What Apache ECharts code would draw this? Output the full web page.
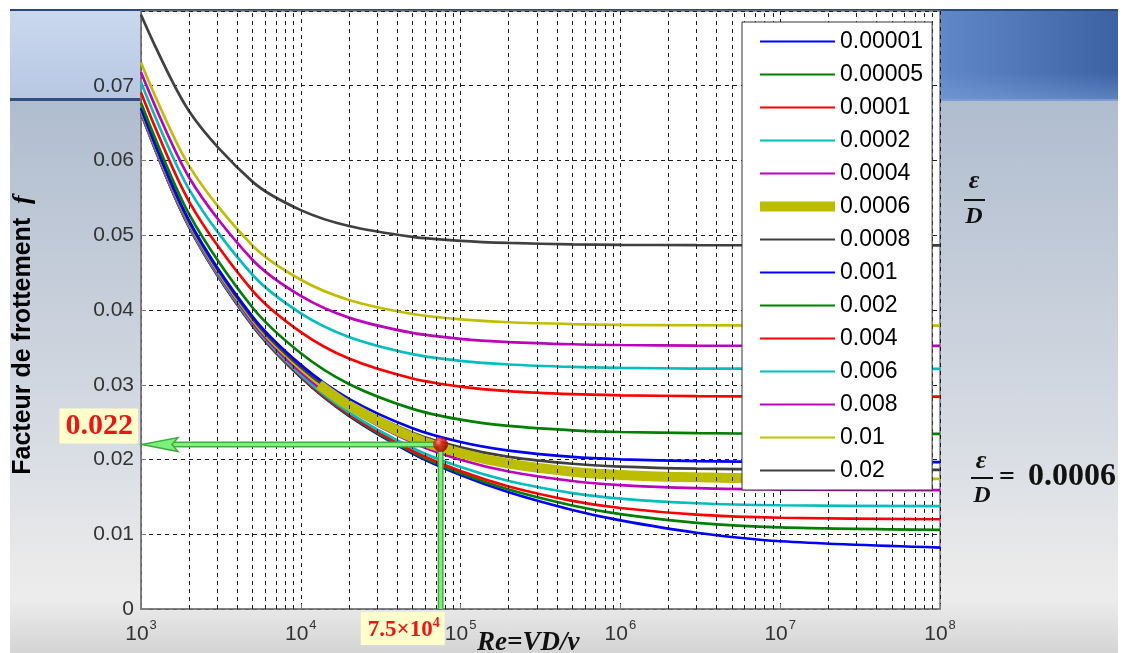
<!DOCTYPE html>
<html>
<head>
<meta charset="utf-8">
<script src="https://cdn.jsdelivr.net/npm/echarts@6/dist/echarts.min.js"></script>
<style>
  html, body { margin: 0; padding: 0; background: #fff; }
  #wrap { position: relative; width: 1126px; height: 653px; overflow: hidden; background: #fff; }
  #bg {
    position: absolute; left: 10px; top: 9px; width: 1108px; height: 644px;
    background:
      linear-gradient(#2b4a7c, #2b4a7c) 0 0 / 100% 2px no-repeat,
      linear-gradient(#2f4f82, #2f4f82) 0 89px / 131px 3px no-repeat,
      linear-gradient(180deg, #cad8ef, #b8c8e2) 0 2px / 131px 87px no-repeat,
      linear-gradient(#7c9cd4, #7c9cd4) 930px 90px / 178px 2px no-repeat,
      linear-gradient(180deg, rgba(255,255,255,0) 70%, rgba(130,165,220,0.45)) 930px 2px / 178px 88px no-repeat,
      linear-gradient(90deg, #6088c8, #3d62a4) 930px 2px / 178px 88px no-repeat,
      linear-gradient(180deg, #b0bdcf 0px, #b0bdcf 92px, #c2cbd8 250px, #d6dbe3 420px, #eaeaea 560px, #ececec 590px, #d4d4d4 644px);
  }
  #chart { position: absolute; left: 0; top: 0; width: 1126px; height: 653px; }
</style>
</head>
<body>
<div id="wrap">
  <div id="bg"></div>
  <div id="chart"></div>
</div>
<script>
// Reynolds numbers at which the friction factor is sampled
const reynolds = [1e3, 2e3, 5e3, 1e4, 2e4, 5e4, 1e5, 2e5, 5e5, 1e6, 3e6, 1e7, 1e8];

// Relative roughness values (legend entries)
const roughnessLabels = ['0.00001', '0.00005', '0.0001', '0.0002', '0.0004', '0.0006', '0.0008',
                         '0.001', '0.002', '0.004', '0.006', '0.008', '0.01', '0.02'];

// Friction factor f for each relative roughness, one value per Reynolds number
const f_00001 = [0.06636, 0.05110, 0.03786, 0.03099, 0.02584, 0.02080, 0.01792, 0.01562, 0.01325, 0.01185, 0.01020, 0.00906, 0.00822];
const f_00005 = [0.06639, 0.05114, 0.03791, 0.03106, 0.02594, 0.02096, 0.01816, 0.01598, 0.01384, 0.01269, 0.01153, 0.01092, 0.01059];
const f_0001  = [0.06642, 0.05118, 0.03797, 0.03115, 0.02606, 0.02117, 0.01845, 0.01639, 0.01447, 0.01351, 0.01263, 0.01221, 0.01201];
const f_0002  = [0.06649, 0.05127, 0.03810, 0.03132, 0.02631, 0.02155, 0.01899, 0.01713, 0.01551, 0.01477, 0.01415, 0.01388, 0.01375];
const f_0004  = [0.06663, 0.05144, 0.03835, 0.03167, 0.02678, 0.02228, 0.01997, 0.01839, 0.01712, 0.01658, 0.01616, 0.01598, 0.01590];
const f_0006  = [0.06677, 0.05162, 0.03860, 0.03201, 0.02724, 0.02295, 0.02084, 0.01944, 0.01837, 0.01794, 0.01761, 0.01747, 0.01741];
const f_0008  = [0.06691, 0.05179, 0.03885, 0.03234, 0.02769, 0.02358, 0.02162, 0.02036, 0.01943, 0.01906, 0.01878, 0.01867, 0.01862];
const f_001   = [0.06705, 0.05197, 0.03910, 0.03267, 0.02812, 0.02418, 0.02234, 0.02119, 0.02035, 0.02003, 0.01978, 0.01969, 0.01964];
const f_002   = [0.06774, 0.05283, 0.04030, 0.03422, 0.03011, 0.02677, 0.02533, 0.02449, 0.02390, 0.02368, 0.02352, 0.02345, 0.02342];
const f_004   = [0.06911, 0.05451, 0.04256, 0.03704, 0.03350, 0.03083, 0.02975, 0.02915, 0.02874, 0.02859, 0.02848, 0.02844, 0.02842];
const f_006   = [0.07047, 0.05614, 0.04468, 0.03956, 0.03640, 0.03410, 0.03320, 0.03271, 0.03238, 0.03226, 0.03217, 0.03213, 0.03212];
const f_008   = [0.07180, 0.05773, 0.04669, 0.04188, 0.03898, 0.03693, 0.03614, 0.03571, 0.03542, 0.03532, 0.03524, 0.03521, 0.03520];
const f_01    = [0.07312, 0.05928, 0.04859, 0.04404, 0.04134, 0.03946, 0.03875, 0.03836, 0.03811, 0.03801, 0.03796, 0.03792, 0.03791];
const f_02    = [0.07951, 0.06659, 0.05714, 0.05336, 0.05123, 0.04979, 0.04926, 0.04897, 0.04878, 0.04872, 0.04868, 0.04865, 0.04864];

const frictionCurves = [f_00001, f_00005, f_0001, f_0002, f_0004, f_0006, f_0008,
                        f_001, f_002, f_004, f_006, f_008, f_01, f_02];

// Highlighted stretch of the ε/D = 0.0006 curve
const highlightRe = [1.3e4, 2e4, 5e4, 1e5, 2e5, 5e5, 1e6, 3e6, 1e7];
const highlightF  = [0.03002, 0.02724, 0.02295, 0.02084, 0.01944, 0.01837, 0.01794, 0.01761, 0.01747];

// Operating point read on the chart
const markerRe = 75000;
const markerF = 0.022;

// Axis tick values
const yTicks = [0, 0.01, 0.02, 0.03, 0.04, 0.05, 0.06, 0.07];
const decades = [3, 4, 5, 6, 7, 8];

const colors = ['#0000ff', '#008000', '#ff0000', '#00bfbf', '#bf00bf', '#bfbf00', '#404040',
                '#0000ff', '#008000', '#ff0000', '#00bfbf', '#bf00bf', '#bfbf00', '#404040'];

// Intermediate log grid positions (2..9 × 10^n)
const minorGrid = [];
decades.slice(0, -1).forEach(function (d) {
  for (let k = 2; k <= 9; k++) minorGrid.push(k * Math.pow(10, d));
});

const gridLine = { type: [4, 4], color: '#1e1e1e', width: 1 };

const curveSeries = roughnessLabels.map(function (name, i) {
  return {
    name: name,
    type: 'line',
    data: reynolds.map(function (re, j) { return [re, frictionCurves[i][j]]; }),
    symbol: 'none',
    smooth: 0.3,
    silent: true,
    z: 2,
    lineStyle: { color: colors[i], width: 2.7 },
    itemStyle: { color: colors[i] }
  };
});

const option = {
  animation: false,
  backgroundColor: 'transparent',
  grid: {
    left: 141, right: 186, top: 11, bottom: 44,
    show: true, backgroundColor: '#ffffff', borderColor: '#7a7a7a', borderWidth: 1.5
  },
  xAxis: {
    type: 'log', logBase: 10, min: 1e3, max: 1e8,
    axisLine: { show: true, lineStyle: { color: '#7a7a7a', width: 1.5 } },
    axisTick: { show: true, inside: true, length: 5, lineStyle: { color: '#7a7a7a' } },
    splitLine: { show: true, lineStyle: gridLine },
    axisLabel: {
      margin: 10,
      formatter: function (v) {
        return '{b|10}{s|' + Math.round(Math.log10(v)) + '}';
      },
      rich: {
        b: { fontSize: 21, fontFamily: 'Liberation Sans', color: '#333', lineHeight: 26, verticalAlign: 'bottom' },
        s: { fontSize: 13, fontFamily: 'Liberation Sans', color: '#333', lineHeight: 26, verticalAlign: 'top', padding: [0, 0, 0, 1] }
      }
    }
  },
  yAxis: {
    type: 'value', min: 0, max: 0.08, interval: 0.01,
    axisLine: { show: true, lineStyle: { color: '#7a7a7a', width: 1.5 } },
    axisTick: { show: true, inside: true, length: 5, lineStyle: { color: '#7a7a7a' } },
    splitLine: { show: true, lineStyle: gridLine },
    axisLabel: {
      showMaxLabel: false,
      margin: 7,
      fontSize: 21, fontFamily: 'Liberation Sans', color: '#333',
      formatter: function (v) {
        return yTicks.indexOf(+v.toFixed(2)) >= 0 ? (v === 0 ? '0' : v.toFixed(2)) : '';
      }
    }
  },
  legend: {
    orient: 'vertical',
    left: 742, top: 22,
    z: 6,
    padding: [8, 9, 8, 13],
    itemWidth: 75, itemHeight: 14, itemGap: 10,
    backgroundColor: '#ffffff', borderColor: '#333', borderWidth: 1, borderRadius: 0,
    selectedMode: false,
    itemStyle: { opacity: 0, borderWidth: 0 },
    textStyle: { fontSize: 23, fontFamily: 'Liberation Sans', color: '#000' },
    data: roughnessLabels.map(function (name) {
      return name === '0.0006'
        ? { name: name, lineStyle: { width: 10, color: '#bdbd00' } }
        : { name: name };
    })
  },
  series: [
    {
      // dashed vertical grid lines between decades
      type: 'line', data: [], z: 1, silent: true,
      markLine: {
        silent: true, symbol: 'none', animation: false,
        label: { show: false },
        lineStyle: gridLine,
        data: minorGrid.map(function (v) { return { xAxis: v }; })
      }
    }
  ].concat(curveSeries).concat([
    {
      name: 'highlight',
      type: 'line', silent: true, z: 3, symbol: 'none', smooth: 0.3,
      data: highlightRe.map(function (re, j) { return [re, highlightF[j]]; }),
      lineStyle: { color: '#bdbd00', width: 10, cap: 'butt' }
    },
    {
      name: 'point',
      type: 'scatter', z: 20, silent: true, symbolSize: 15,
      data: [[markerRe, markerF]],
      itemStyle: {
        color: new echarts.graphic.RadialGradient(0.35, 0.3, 0.7, [
          { offset: 0, color: '#ff9a9a' },
          { offset: 0.35, color: '#f01010' },
          { offset: 1, color: '#a00000' }
        ])
      }
    }
  ])
};

const chart = echarts.init(document.getElementById('chart'));
chart.setOption(option);

// Guide lines, arrow and value tags placed through the grid's own scales
const p = chart.convertToPixel({ gridIndex: 0 }, [markerRe, markerF]);
const o = chart.convertToPixel({ gridIndex: 0 }, [1e3, 0]);
const L = o[0], B = o[1];
const serif = 'Liberation Serif';

chart.setOption({
  graphic: [
    // horizontal guide to the f axis
    { type: 'line', z: 10, silent: true, shape: { x1: p[0], y1: p[1], x2: L + 31, y2: p[1] },
      style: { stroke: '#3fae3f', lineWidth: 6 } },
    { type: 'line', z: 11, silent: true, shape: { x1: p[0], y1: p[1], x2: L + 31, y2: p[1] },
      style: { stroke: '#7bf07b', lineWidth: 3 } },
    { type: 'polygon', z: 12, silent: true,
      shape: { points: [[L + 1, p[1]], [L + 37, p[1] - 7], [L + 31, p[1]], [L + 37, p[1] + 7]] },
      style: { fill: '#7bf07b', stroke: '#3fae3f', lineWidth: 1.5 } },
    // vertical guide to the Re axis
    { type: 'line', z: 10, silent: true, shape: { x1: p[0], y1: p[1], x2: p[0], y2: B },
      style: { stroke: '#3fae3f', lineWidth: 6 } },
    { type: 'line', z: 11, silent: true, shape: { x1: p[0], y1: p[1], x2: p[0], y2: B },
      style: { stroke: '#7bf07b', lineWidth: 3 } },
    // value tags
    { type: 'text', z: 15, silent: true, x: L - 3, y: p[1] - 1,
      style: {
        text: String(markerF), font: 'bold 30px ' + serif, fill: '#f01414',
        backgroundColor: '#ffffcc', padding: [3, 5, 2, 6], align: 'right', verticalAlign: 'bottom'
      } },
    { type: 'text', z: 15, silent: true, x: p[0] + 4, y: B + 3,
      style: {
        text: '{a|7.5×10}{s|4}',
        rich: {
          a: { font: 'bold 23px ' + serif, fill: '#f01414', lineHeight: 26, verticalAlign: 'bottom' },
          s: { font: 'bold 14px ' + serif, fill: '#f01414', lineHeight: 26, verticalAlign: 'top' }
        },
        backgroundColor: '#ffffcc', padding: [4, 5, 3, 7], align: 'right', verticalAlign: 'top'
      } },
    // axis titles
    { type: 'text', silent: true, x: 23, y: 335, rotation: Math.PI / 2,
      style: {
        text: '{a|Facteur de frottement  }{b|f}',
        rich: {
          a: { font: 'bold 25px Liberation Sans', fill: '#000' },
          b: { font: 'italic bold 26px ' + serif, fill: '#000' }
        },
        align: 'center', verticalAlign: 'middle'
      } },
    { type: 'text', silent: true, x: 477, y: 643,
      style: { text: 'Re=VD/ν', font: 'italic bold 27px ' + serif, fill: '#111', align: 'left', verticalAlign: 'middle' } },
    // legend title ε/D
    { type: 'text', silent: true, x: 974, y: 181,
      style: { text: 'ε', font: 'italic bold 26px ' + serif, fill: '#111', align: 'center', verticalAlign: 'middle' } },
    { type: 'line', silent: true, shape: { x1: 964, y1: 200, x2: 985, y2: 200 }, style: { stroke: '#111', lineWidth: 2 } },
    { type: 'text', silent: true, x: 974, y: 217,
      style: { text: 'D', font: 'italic bold 24px ' + serif, fill: '#111', align: 'center', verticalAlign: 'middle' } },
    // highlighted roughness
    { type: 'text', silent: true, x: 981, y: 461,
      style: { text: 'ε', font: 'italic bold 26px ' + serif, fill: '#111', align: 'center', verticalAlign: 'middle' } },
    { type: 'line', silent: true, shape: { x1: 971, y1: 478, x2: 993, y2: 478 }, style: { stroke: '#111', lineWidth: 2 } },
    { type: 'text', silent: true, x: 982, y: 496,
      style: { text: 'D', font: 'italic bold 24px ' + serif, fill: '#111', align: 'center', verticalAlign: 'middle' } },
    { type: 'text', silent: true, x: 999, y: 478,
      style: { text: '=', font: 'bold 28px ' + serif, fill: '#111', align: 'left', verticalAlign: 'middle' } },
    { type: 'text', silent: true, x: 1028, y: 477,
      style: { text: '0.0006', font: 'bold 32px ' + serif, fill: '#111', align: 'left', verticalAlign: 'middle' } }
  ]
});
</script>
</body>
</html>
